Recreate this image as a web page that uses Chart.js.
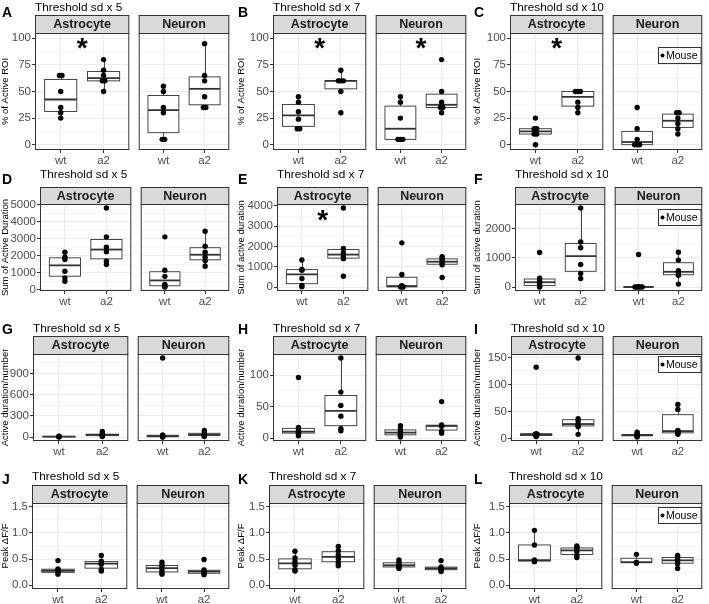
<!DOCTYPE html>
<html>
<head>
<meta charset="utf-8">
<script src="https://cdn.jsdelivr.net/npm/chart.js@4.4.1/dist/chart.umd.min.js"></script>
<style>
  body { margin: 0; background: #fff; }
  #figure { position: relative; width: 709px; height: 604px; overflow: hidden; }
  #figure canvas { position: absolute; }
</style>
</head>
<body>
<div id="figure"></div>
<script>
// ---- data ----
const groups = ["wt", "a2"];
const cellTypes = ["Astrocyte", "Neuron"];
const thresholds = [5, 7, 10];
const panelLetters = ["A", "B", "C", "D", "E", "F", "G", "H", "I", "J", "K", "L"];
const yTitles = [
  "% of Active ROI", "% of Active ROI", "% of Active ROI",
  "Sum of Active Duration", "Sum of active duration", "Sum of active duration",
  "Active duration/number", "Active duration/number", "Active duration/number",
  "Peak \u0394F/F", "Peak \u0394F/F", "Peak \u0394F/F",
];
const yStep = [25, 25, 25, 1000, 1000, 1000, 300, 50, 50, 0.5, 0.5, 0.5];
const yLimits = [[0, 100], [0, 100], [0, 100], null, null, null, null, null, null, [0, 1.5], [0, 1.5], [0, 1.5]];
// "*" marks: y position per facet (Astrocyte, Neuron)
const stars = [[97, null], [97, 97], [97, null], [null, null], [3670, null], [null, null],
  [null, null], [null, null], [null, null], [null, null], [null, null], [null, null]];

// each: [astro wt, astro a2, neuron wt, neuron a2]
const activeRoiSd5 = [[25, 30, 35, 50, 65, 65], [50, 60, 60, 65, 70, 80], [5, 5, 30, 35, 50, 55], [35, 35, 45, 60, 65, 95]];
const activeRoiSd7 = [[15, 15, 24, 31, 40, 45], [30, 50, 60, 60, 60, 70], [5, 5, 5, 25, 40, 45], [30, 35, 35, 40, 50, 80]];
const activeRoiSd10 = [[0, 10, 10, 15, 15, 25], [30, 35, 40, 50, 50, 50], [0, 0, 0, 5, 15, 35], [10, 15, 20, 25, 30, 30]];
const durationSd5 = [[490, 690, 1080, 1770, 1900, 2200], [1470, 1670, 2220, 2490, 3100, 4800], [150, 200, 300, 780, 1140, 3100], [1370, 1700, 1900, 2200, 2550, 3430]];
const durationSd7 = [[20, 80, 420, 830, 870, 1330], [530, 1400, 1500, 1700, 1900, 3900], [0, 0, 30, 70, 620, 2180], [470, 1100, 1200, 1300, 1420, 1500]];
const durationSd10 = [[0, 30, 130, 200, 300, 1180], [290, 460, 770, 1340, 1540, 2700], [0, 0, 0, 0, 10, 1110], [100, 400, 480, 560, 920, 1190]];
const perEventSd5 = [[4, 6, 8, 10, 12, 15], [10, 20, 28, 35, 45, 80], [2, 5, 10, 20, 30, 1120], [10, 20, 30, 40, 60, 95]];
const perEventSd7 = [[4, 8, 9, 12, 17, 96], [12, 15, 35, 52, 73, 127], [2, 5, 7, 11, 14, 20], [8, 11, 19, 20, 21, 58]];
const perEventSd10 = [[4, 5, 8, 8, 9, 132], [8, 22, 25, 27, 33, 37, 149], [3, 5, 6, 7, 8, 12], [8, 10, 13, 15, 54, 63]];
const peakSd5 = [[0.21, 0.24, 0.26, 0.29, 0.31, 0.47], [0.27, 0.30, 0.40, 0.42, 0.46, 0.57], [0.21, 0.24, 0.29, 0.36, 0.38, 0.44], [0.20, 0.22, 0.25, 0.27, 0.29, 0.49]];
const peakSd7 = [[0.27, 0.29, 0.38, 0.45, 0.52, 0.65], [0.37, 0.43, 0.50, 0.58, 0.66, 0.74], [0.32, 0.34, 0.37, 0.39, 0.44, 0.48], [0.26, 0.29, 0.31, 0.33, 0.35, 0.47]];
const peakSd10 = [[0.45, 0.46, 0.48, 0.77, 1.05], [0.53, 0.57, 0.64, 0.69, 0.72, 0.75], [0.42, 0.44, 0.59], [0.32, 0.41, 0.45, 0.50, 0.54, 0.57]];

const panels = [activeRoiSd5, activeRoiSd7, activeRoiSd10, durationSd5, durationSd7, durationSd10,
  perEventSd5, perEventSd7, perEventSd10, peakSd5, peakSd7, peakSd10];

// ---- layout ----
const colX = [0, 236, 472];
const colRight = [232, 469, 705];
const plotLeft = [35, 273, 510, 40, 277, 515, 33, 273, 511, 32, 269, 509];
const rowLayout = [
  { strip: 15, top: 33, bottom: 150, title: 11, letter: 17, legend: 14 },
  { strip: 187, top: 204, bottom: 291, title: 178, letter: 184, legend: 5 },
  { strip: 336, top: 354, bottom: 441, title: 332, letter: 334, legend: 2 },
  { strip: 485, top: 503, bottom: 589, title: 480, letter: 484, legend: 4 },
];
const facetGap = 4;
const xAxisHeight = 16;
const INK = "#333333";
const FONT = '"Liberation Sans", Arial, sans-serif';

Chart.defaults.font.family = FONT;

function quantile(sorted, p) {
  const h = (sorted.length - 1) * p;
  const i = Math.floor(h);
  const next = i + 1 < sorted.length ? sorted[i + 1] : sorted[i];
  return sorted[i] + (h - i) * (next - sorted[i]);
}

function boxStats(vals) {
  const s = [...vals].sort((a, b) => a - b);
  const q1 = quantile(s, 0.25), med = quantile(s, 0.5), q3 = quantile(s, 0.75);
  const iqr = q3 - q1;
  const inside = s.filter((v) => v >= q1 - 1.5 * iqr - 1e-9 && v <= q3 + 1.5 * iqr + 1e-9);
  return { q1, med, q3, lo: inside[0], hi: inside[inside.length - 1] };
}

// spread identical values a little so stacked dots stay visible
function pointsOf(facetValues) {
  const out = [];
  facetValues.forEach((vals, i) => {
    const seen = {};
    vals.forEach((v) => {
      const n = vals.filter((w) => w === v).length;
      const k = (seen[v] = (seen[v] ?? -1) + 1);
      out.push({ x: i + 1 + (k - (n - 1) / 2) * 0.06, y: v });
    });
  });
  return out;
}

function facetPlugin(spec) {
  return {
    id: "facet",
    beforeDatasetsDraw(chart) {
      const { ctx, scales: { x, y } } = chart;
      ctx.save();
      spec.values.forEach((vals, i) => {
        const b = boxStats(vals);
        const cx = Math.round(x.getPixelForValue(i + 1)) + 0.5;
        const x0 = x.getPixelForValue(i + 0.625), x1 = x.getPixelForValue(i + 1.375);
        const yq1 = y.getPixelForValue(b.q1), yq3 = y.getPixelForValue(b.q3);
        ctx.strokeStyle = INK;
        ctx.lineWidth = 0.9;
        ctx.beginPath();
        ctx.moveTo(cx, yq3); ctx.lineTo(cx, y.getPixelForValue(b.hi));
        ctx.moveTo(cx, yq1); ctx.lineTo(cx, y.getPixelForValue(b.lo));
        ctx.stroke();
        ctx.fillStyle = "#fff";
        ctx.fillRect(x0, yq3, x1 - x0, yq1 - yq3);
        ctx.strokeRect(x0, yq3, x1 - x0, yq1 - yq3);
        ctx.lineWidth = 1.8;
        ctx.beginPath();
        const ym = y.getPixelForValue(b.med);
        ctx.moveTo(x0, ym); ctx.lineTo(x1, ym);
        ctx.stroke();
      });
      ctx.restore();
    },
    afterDraw(chart) {
      const { ctx, chartArea: a, scales: { x, y } } = chart;
      ctx.save();
      ctx.strokeStyle = INK;
      ctx.lineWidth = 1;
      // panel letter and title (left facet only)
      if (spec.title) {
        ctx.fillStyle = "#000";
        ctx.textAlign = "left";
        ctx.textBaseline = "alphabetic";
        ctx.font = `bold 14px ${FONT}`;
        ctx.fillText(spec.letter, 2, spec.letterY);
        ctx.font = `11.8px ${FONT}`;
        ctx.fillText(spec.title, a.left, spec.titleY);
      }
      // strip
      const sTop = a.top - spec.stripH;
      ctx.fillStyle = "#d9d9d9";
      ctx.fillRect(a.left, sTop, a.right - a.left, spec.stripH);
      ctx.strokeRect(a.left + 0.5, sTop + 0.5, a.right - a.left - 1, spec.stripH);
      ctx.fillStyle = "#1a1a1a";
      ctx.font = `bold 12.5px ${FONT}`;
      ctx.textAlign = "center";
      ctx.textBaseline = "middle";
      ctx.fillText(spec.strip, (a.left + a.right) / 2, sTop + spec.stripH / 2 + 1);
      // panel border
      ctx.strokeRect(a.left + 0.5, a.top + 0.5, a.right - a.left - 1, a.bottom - a.top - 1);
      // significance mark
      if (spec.star != null) {
        ctx.fillStyle = "#000";
        ctx.font = `bold 28px ${FONT}`;
        ctx.textBaseline = "alphabetic";
        ctx.fillText("*", x.getPixelForValue(1.5), y.getPixelForValue(spec.star) + 0.57 * 28);
      }
      // legend
      if (spec.legend) {
        const label = chart.data.datasets[0].label;
        ctx.font = `10.5px ${FONT}`;
        const w = ctx.measureText(label).width + 11;
        const h = 16;
        const left = Math.round(a.right - 2 - w) + 0.5, top = a.top + spec.legendTop + 0.5;
        ctx.fillStyle = "#fff";
        ctx.fillRect(left, top, w, h);
        ctx.strokeRect(left, top, w, h);
        ctx.fillStyle = "#000";
        ctx.beginPath();
        ctx.arc(left + 4, top + h / 2, 2, 0, Math.PI * 2);
        ctx.fill();
        ctx.textAlign = "left";
        ctx.textBaseline = "middle";
        ctx.fillText(label, left + 7.5, top + h / 2 + 0.5);
      }
      ctx.restore();
    },
  };
}

const figure = document.getElementById("figure");

panels.forEach((values, p) => {
  const row = Math.floor(p / 3), col = p % 3, lay = rowLayout[row];
  const headH = Math.min(20, lay.strip);
  const canvasTop = lay.strip - headH;

  const all = values.flat();
  const [lo, hi] = yLimits[p] ?? [Math.min(...all), Math.max(...all)];
  const pad = (hi - lo) * 0.05;
  const yMin = lo - pad, yMax = hi + pad;
  const step = yStep[p], half = step / 2;
  const isMajor = (v) => Math.abs(v / step - Math.round(v / step)) < 1e-6;
  const tickValues = [];
  for (let k = Math.ceil(yMin / half); k * half <= yMax; k++) tickValues.push(Math.round(k * half * 1e6) / 1e6);
  const fmt = (v) => (step < 1 ? v.toFixed(1) : String(v));

  const facetW = Math.round((colRight[col] - plotLeft[p] - facetGap) / 2);

  cellTypes.forEach((cell, f) => {
    const isLeft = f === 0;
    const left = isLeft ? colX[col] : plotLeft[p] + facetW + facetGap;
    const right = isLeft ? plotLeft[p] + facetW : colRight[col];
    const canvas = document.createElement("canvas");
    canvas.width = right - left;
    canvas.height = lay.bottom + xAxisHeight - canvasTop;
    canvas.style.left = left + "px";
    canvas.style.top = canvasTop + "px";
    figure.appendChild(canvas);

    const facetValues = values.slice(f * 2, f * 2 + 2);

    new Chart(canvas, {
      type: "scatter",
      data: {
        datasets: [{
          label: "Mouse",
          data: pointsOf(facetValues),
          backgroundColor: "#000",
          borderWidth: 0,
          pointRadius: 2.7,
          pointHoverRadius: 2.7,
        }],
      },
      options: {
        responsive: false,
        animation: false,
        events: [],
        layout: { padding: { top: lay.top - canvasTop, left: 0, right: 0, bottom: 0 } },
        plugins: { legend: { display: false }, tooltip: { enabled: false } },
        scales: {
          x: {
            type: "linear",
            min: 0.4,
            max: 2.6,
            afterBuildTicks: (s) => { s.ticks = groups.map((g, i) => ({ value: i + 1 })); },
            afterFit: (s) => { s.height = xAxisHeight; },
            ticks: { autoSkip: false, maxRotation: 0, padding: 1, color: "#4d4d4d", font: { size: 11.5 }, callback: (v) => groups[Math.round(v) - 1] },
            grid: { color: "#ebebeb", tickColor: INK, tickLength: 3 },
            border: { display: false },
          },
          y: {
            min: yMin,
            max: yMax,
            afterBuildTicks: (s) => { s.ticks = tickValues.map((v) => ({ value: v })); },
            afterFit: (s) => { s.width = isLeft ? plotLeft[p] - colX[col] : 0; },
            ticks: { display: isLeft, autoSkip: false, padding: 1, color: "#4d4d4d", font: { size: 11.5 }, callback: (v) => (isMajor(v) ? fmt(v) : "") },
            grid: {
              color: (c) => (c.tick && !isMajor(c.tick.value) ? "#f4f4f4" : "#ebebeb"),
              tickColor: (c) => (c.tick && isMajor(c.tick.value) ? INK : "rgba(0,0,0,0)"),
              tickLength: 3,
              drawTicks: isLeft,
            },
            border: { display: false },
            title: { display: isLeft, text: yTitles[p], color: "#000", font: { size: 9.5 }, padding: { top: 0, bottom: 0 } },
          },
        },
      },
      plugins: [facetPlugin({
        values: facetValues,
        strip: cell,
        stripH: lay.top - lay.strip,
        star: stars[p][f],
        legend: col === 2 && f === 1,
        legendTop: lay.legend,
        letter: isLeft ? panelLetters[p] : null,
        letterY: lay.letter - canvasTop,
        title: isLeft ? `Threshold sd x ${thresholds[col]}` : null,
        titleY: lay.title - canvasTop,
      })],
    });
  });
});
</script>
</body>
</html>
